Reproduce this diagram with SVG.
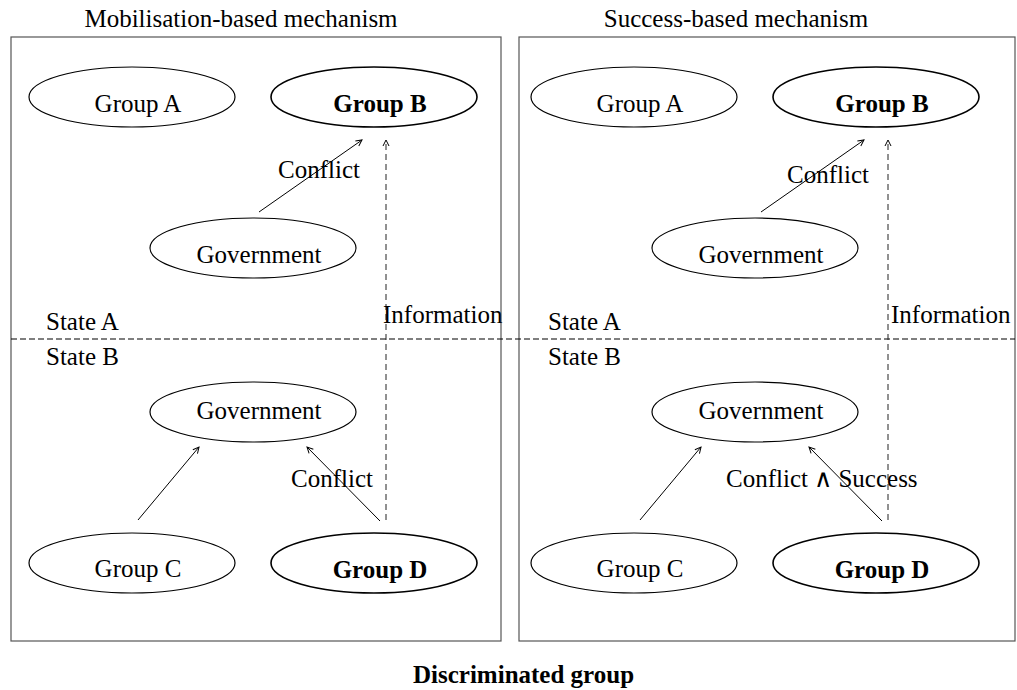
<svg xmlns="http://www.w3.org/2000/svg" width="1017" height="690" viewBox="0 0 1017 690">
<defs>
<style>
text{font-family:"Liberation Serif","Times New Roman",serif;font-size:25px;fill:#000}
.b{font-weight:bold}
.box{fill:none;stroke:#555;stroke-width:1.2}
.el{fill:#fff;stroke:#000;stroke-width:1.2}
.elb{fill:#fff;stroke:#000;stroke-width:1.6}
.ar{stroke:#000;stroke-width:1;fill:none;marker-end:url(#ah)}
.da{stroke:#222;stroke-width:1;fill:none;stroke-dasharray:6 4;marker-end:url(#ah)}
.sep{stroke:#000;stroke-width:1.2;stroke-dasharray:6 3;fill:none}
</style>
<marker id="ah" viewBox="0 0 8 8" refX="7" refY="4" markerWidth="8" markerHeight="8" markerUnits="userSpaceOnUse" orient="auto">
<path d="M1,1 L7,4 L1,7" fill="none" stroke="#000" stroke-width="1"/>
</marker>
</defs>
<rect fill="#fff" width="1017" height="690"/>
<g id="panel-left">
<rect class="box" x="11" y="37" width="490" height="604"/>
<text x="241" y="27" text-anchor="middle">Mobilisation-based mechanism</text>
<text x="46" y="330">State A</text>
<text x="46" y="365">State B</text>
</g>
<g id="panel-right">
<rect class="box" x="519" y="37" width="496" height="604"/>
<text x="736" y="27" text-anchor="middle">Success-based mechanism</text>
<text x="548" y="330">State A</text>
<text x="548" y="365">State B</text>
</g>
<line class="sep" x1="11" y1="339" x2="1015" y2="339"/>
<g id="L-groupA"><ellipse class="el" cx="132" cy="97" rx="103" ry="30"/><text x="138" y="112" text-anchor="middle">Group A</text></g>
<g id="L-groupB"><ellipse class="elb" cx="374" cy="97" rx="103" ry="30"/><text class="b" x="380" y="112" text-anchor="middle">Group B</text></g>
<g id="L-govA"><ellipse class="el" cx="253" cy="248" rx="103" ry="30"/><text x="259" y="263" text-anchor="middle">Government</text></g>
<g id="L-govB"><ellipse class="el" cx="253" cy="412" rx="103" ry="30"/><text x="259" y="419" text-anchor="middle">Government</text></g>
<g id="L-groupC"><ellipse class="el" cx="132" cy="563" rx="103" ry="30"/><text x="138" y="577" text-anchor="middle">Group C</text></g>
<g id="L-groupD"><ellipse class="elb" cx="374" cy="563" rx="103" ry="30"/><text class="b" x="380" y="578" text-anchor="middle">Group D</text></g>
<g id="R-groupA"><ellipse class="el" cx="634" cy="97" rx="103" ry="30"/><text x="640" y="112" text-anchor="middle">Group A</text></g>
<g id="R-groupB"><ellipse class="elb" cx="876" cy="97" rx="103" ry="30"/><text class="b" x="882" y="112" text-anchor="middle">Group B</text></g>
<g id="R-govA"><ellipse class="el" cx="755" cy="248" rx="103" ry="30"/><text x="761" y="263" text-anchor="middle">Government</text></g>
<g id="R-govB"><ellipse class="el" cx="755" cy="412" rx="103" ry="30"/><text x="761" y="419" text-anchor="middle">Government</text></g>
<g id="R-groupC"><ellipse class="el" cx="634" cy="563" rx="103" ry="30"/><text x="640" y="577" text-anchor="middle">Group C</text></g>
<g id="R-groupD"><ellipse class="elb" cx="876" cy="563" rx="103" ry="30"/><text class="b" x="882" y="578" text-anchor="middle">Group D</text></g>
<g id="connectors">
<line class="ar" x1="259" y1="212" x2="362" y2="140"/>
<line class="da" x1="386" y1="520" x2="386" y2="140"/>
<line class="ar" x1="138" y1="520" x2="199" y2="447"/>
<line class="ar" x1="380" y1="521" x2="307" y2="447"/>
<line class="ar" x1="761" y1="212" x2="864" y2="140"/>
<line class="da" x1="888" y1="520" x2="888" y2="140"/>
<line class="ar" x1="640" y1="520" x2="701" y2="447"/>
<line class="ar" x1="882" y1="521" x2="809" y2="447"/>
<text x="278" y="178">Conflict</text>
<text x="383" y="323">Information</text>
<text x="291" y="487">Conflict</text>
<text x="787" y="183">Conflict</text>
<text x="891" y="323">Information</text>
<text x="726" y="487">Conflict ∧ Success</text>
</g>
<text class="b" x="413" y="683">Discriminated group</text>
</svg>
